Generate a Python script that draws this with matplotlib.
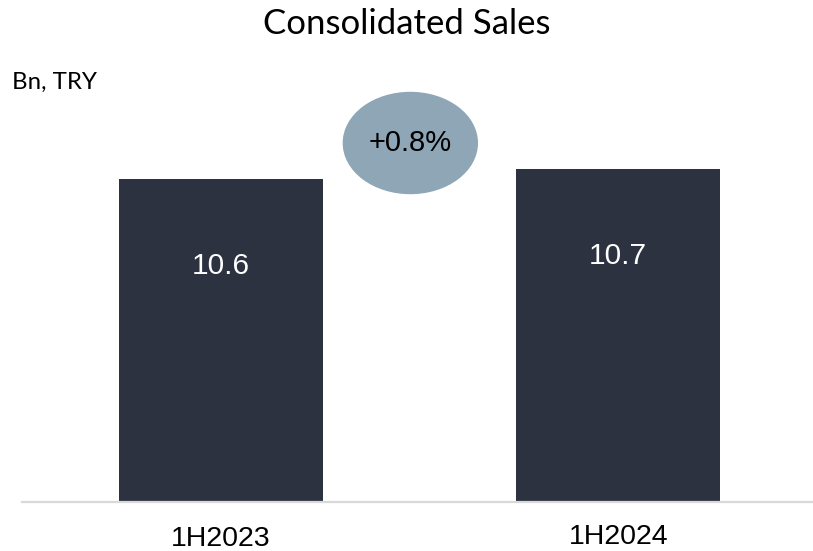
import matplotlib
matplotlib.use("Agg")
import matplotlib.pyplot as plt
from matplotlib.patches import Ellipse

periods = ["1H2023", "1H2024"]
sales = [10.6, 10.7]
growth_label = "+0.8%"

BAR = "#2d3241"
BUBBLE = "#8ea6b5"

fig = plt.figure(figsize=(8.13, 5.51), dpi=100)
ax = fig.add_axes([22 / 813, 1 - 502 / 551, 1 - 22 / 813, 440 / 551])

x = range(len(periods))
bars = ax.bar(x, sales, width=0.513, color=BAR, zorder=2)
ax.set_xlim(-0.5, 1.49)
ax.set_ylim(7.37, 7.37 + 4.40)

for b, v in zip(bars, sales):
    ax.text(b.get_x() + b.get_width() / 2, v - 0.875, f"{v:.1f}",
            ha="center", va="center", color="white", fontsize=21.5,
            family="Liberation Sans")

for s in ax.spines.values():
    s.set_visible(False)
ax.spines["bottom"].set_visible(True)
ax.spines["bottom"].set_color("#d9d9d9")
ax.spines["bottom"].set_linewidth(1.6)
ax.set_yticks([])
ax.set_xticks([])

# category labels under the baseline
for xi, name, dy in zip(x, periods, [-0.375, -0.35]):
    ax.text(xi, ax.get_ylim()[0] + dy, name, ha="center", va="center",
            fontsize=20.5, family="Liberation Sans", clip_on=False)

# growth bubble between the bars
ax.add_patch(Ellipse((0.477, 10.96), 0.337, 1.01, color=BUBBLE, zorder=3,
                     clip_on=False))
ax.text(0.477, 10.96, growth_label, ha="center", va="center", fontsize=21,
        family="Liberation Sans", zorder=4)

fig.text(0.5, 1 - 24 / 551, "Consolidated Sales", ha="center", va="center",
         fontsize=25, family="Lato")
fig.text(12 / 813, 1 - 82 / 551, "Bn, TRY", ha="left", va="center",
         fontsize=17.3, family="Lato")

fig.savefig("out.png", dpi=100)
